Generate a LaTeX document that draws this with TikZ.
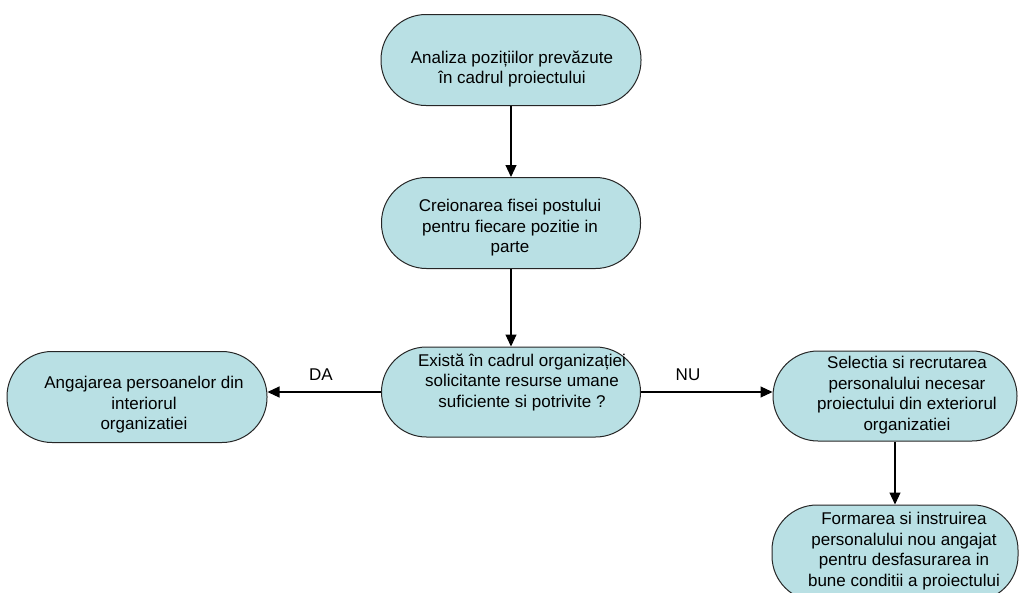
\documentclass[tikz,border=0pt]{standalone}
\usepackage{fontspec}
\setmainfont{Liberation Sans}
\usetikzlibrary{arrows.meta}
\definecolor{boxfill}{RGB}{185,224,228}
\begin{document}
\begin{tikzpicture}[x=1pt,y=-1pt,
  stadium/.style={draw=black!85, line width=1pt, fill=boxfill, rounded corners=45pt, inner sep=0pt},
  txt/.style={align=center, inner sep=0pt, font=\fontsize{17}{20.5}\selectfont},
  arr/.style={line width=1.1pt, -{Triangle[length=12pt,width=11pt]}}]
\useasboundingbox (0,0) rectangle (1022,592);
\clip (0,0) rectangle (1022,592);
\node[stadium, minimum width=260pt, minimum height=91pt] (n1) at (511,60) {};
\node[txt] (t1) at (512,69) {Analiza pozițiilor prevăzute\\în cadrul proiectului};
\node[stadium, minimum width=259pt, minimum height=91pt] (n2) at (511,223) {};
\node[txt] (t2) at (510,228) {Creionarea fisei postului\\pentru fiecare pozitie in\\parte};
\node[stadium, minimum width=259pt, minimum height=90pt] (n3) at (511,392) {};
\node[txt] (t3) at (522,382) {Există în cadrul organizației\\solicitante resurse umane\\suficiente si potrivite ?};
\node[stadium, minimum width=260pt, minimum height=91pt] (nl) at (137,397) {};
\node[txt] (tl) at (144,405) {Angajarea persoanelor din\\interiorul\\organizatiei};
\node[stadium, minimum width=244pt, minimum height=90pt] (nr) at (895,396) {};
\node[txt] (tr) at (907,395) {Selectia si recrutarea\\personalului necesar\\proiectului din exteriorul\\organizatiei};
\node[stadium, minimum width=246pt, minimum height=96pt] (nb) at (895,553) {};
\node[txt] (tb) at (904,551) {Formarea si instruirea\\personalului nou angajat\\pentru desfasurarea in\\bune conditii a proiectului};
\draw[arr] (n1) -- (n2);
\draw[arr] (n2) -- (n3);
\draw[arr] (n3.west) -- (n3.west -| nl.east);
\draw[arr] (n3.east) -- (n3.east -| nr.west);
\draw[arr] (nr) -- (nb);
\node[txt] (da) at (321,375) {DA};
\node[txt] (nu) at (688,375) {NU};
\end{tikzpicture}
\end{document}
